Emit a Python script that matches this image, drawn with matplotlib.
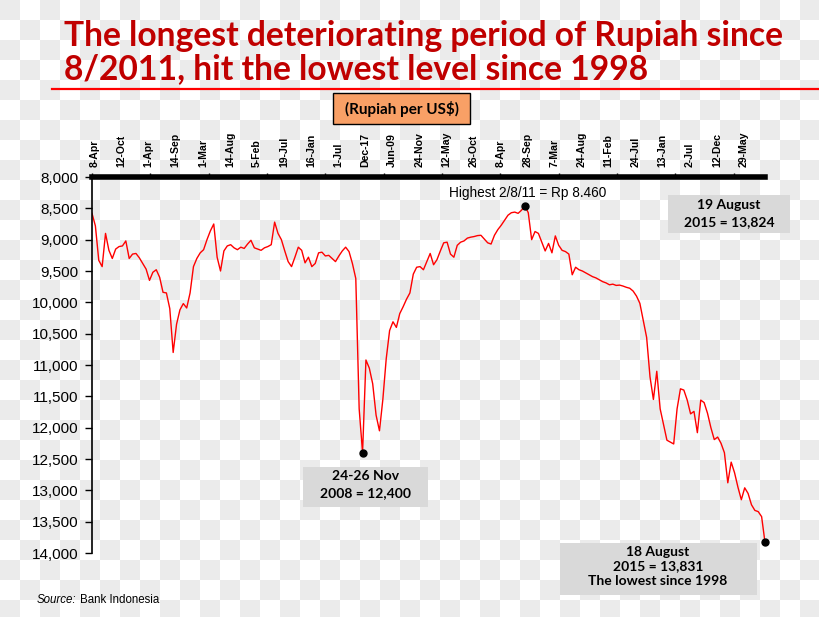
import numpy as np
import matplotlib
matplotlib.use('Agg')
import matplotlib.pyplot as plt
from matplotlib.patches import Rectangle
from matplotlib.lines import Line2D
from matplotlib.ticker import FuncFormatter

W, H = 820, 617

# Rupiah per US$, Apr 2004 - 18 Aug 2015 at evenly spaced points
rupiah = [
    8580, 8780, 9330, 9430, 8900, 9170, 9300, 9150, 9110, 9100,
    9020, 9300, 9230, 9220, 9290, 9380, 9470, 9650, 9520, 9480,
    9600, 9840, 9850, 10100, 10800, 10350, 10120, 10020, 10090, 9850,
    9430, 9300, 9210, 9160, 9000, 8860, 8750, 9280, 9500, 9180,
    9100, 9080, 9130, 9160, 9120, 9140, 9070, 9010, 9130, 9150,
    9170, 9130, 9110, 9080, 8720, 8900, 9000, 9180, 9350, 9430,
    9280, 9120, 9170, 9370, 9280, 9430, 9380, 9210, 9200, 9260,
    9250, 9300, 9350, 9260, 9180, 9120, 9190, 9380, 9620, 11700,
    12400, 10920, 11050, 11300, 11800, 12050, 11550, 10900, 10450, 10310,
    10400, 10180, 10070, 9950, 9850, 9550, 9440, 9430, 9480, 9350,
    9220, 9400, 9320, 9180, 9050, 9040, 9230, 9280, 9090, 9040,
    9020, 8975, 8960, 8950, 8935, 8930, 8990, 9050, 9070, 8930,
    8840, 8770, 8690, 8610, 8570, 8560, 8580, 8530, 8460, 8570,
    9000, 8870, 8900, 9040, 9180, 9060, 9210, 8940, 9090, 9170,
    9190, 9230, 9560, 9440, 9480, 9500, 9530, 9560, 9590, 9610,
    9640, 9670, 9690, 9720, 9710, 9730, 9725, 9740, 9760, 9775,
    9820, 9900, 10016, 10290, 10560, 11190, 11550, 11100, 11700, 11950,
    12200, 12230, 12260, 11700, 11380, 11400, 11560, 11780, 11740, 12080,
    11560, 11600, 11770, 12000, 12190, 12150, 12250, 12400, 12880, 12550,
    12720, 12950, 13150, 12960, 13050, 13230, 13320, 13340, 13420, 13831,
]

date_labels = ['8-Apr', '12-Oct', '1-Apr', '14-Sep', '1-Mar', '14-Aug', '5-Feb',
               '19-Jul', '16-Jan', '1-Jul', 'Dec-17', 'Jun-09', '24-Nov', '12-May',
               '26-Oct', '8-Apr', '28-Sep', '7-Mar', '24-Aug', '11-Feb', '24-Jul',
               '13-Jan', '2-Jul', '12-Dec', '29-May']
y_ticks = list(range(8000, 14001, 500))

title_lines = ['The longest deteriorating period of Rupiah since',
               '8/2011, hit the lowest level since 1998']
unit_label = '(Rupiah per US$)'
high_note = 'Highest 2/8/11 = Rp 8.460'
low2008_note = ['24-26 Nov', '2008 = 12,400']
aug19_note = ['19 August', '2015 = 13,824']
aug18_note = ['18 August', '2015 = 13,831', 'The lowest since 1998']

TITLE_RED = '#c00000'
BOX_GREY = '#d9d9d9'


def fx(x):
    return x / W


def fy(y):
    return 1 - y / H


def box(fig, x0, y0, x1, y1, fc, ec='none'):
    fig.add_artist(Rectangle((fx(x0), fy(y1)), fx(x1) - fx(x0), fy(y0) - fy(y1),
                             transform=fig.transFigure, fc=fc, ec=ec, lw=1, zorder=3))


def note(fig, cx, ys, lines, size=10):
    for y, s in zip(ys, lines):
        fig.text(fx(cx), fy(y), s, ha='center', va='center', fontsize=size,
                 fontweight='bold', family='Lato', zorder=4)


plt.rcParams['font.family'] = ['Liberation Sans', 'DejaVu Sans']

fig = plt.figure(figsize=(W / 100, H / 100), dpi=100)

# light checkerboard behind everything
yy, xx = np.mgrid[0:H, 0:W]
cells = (xx // 20 + yy // 20) % 2 == 0
bg = np.where(cells[..., None], 0.922, 1.0) * np.ones(3)
fig.figimage(bg, 0, 0, zorder=0)

# red gradient block and rule under the title
stops = np.array([[0.45, 0, 0], [0.85, 0, 0], [1, 0.05, 0.05], [0.95, 0, 0], [0.8, 0, 0]])
grad = np.array([np.interp(np.linspace(0, 1, 52), np.linspace(0, 1, len(stops)), stops[:, c])
                 for c in range(3)]).T[None, :, :]
bar_ax = fig.add_axes([0, fy(91), fx(52), fy(3) - fy(91)])
bar_ax.imshow(grad, aspect='auto')
bar_ax.axis('off')
fig.add_artist(Line2D([fx(52), 1], [fy(89), fy(89)], color='#ff0000', lw=1.6, zorder=3))

fig.text(fx(64), fy(46), title_lines[0], fontsize=24.2, fontweight='bold', family='Lato',
         color=TITLE_RED, va='baseline')
fig.text(fx(64), fy(79), title_lines[1], fontsize=24.2, fontweight='bold', family='Lato',
         color=TITLE_RED, va='baseline')

box(fig, 333, 93, 470, 124, '#f9a066', 'black')
fig.text(fx(402), fy(109), unit_label, ha='center', va='center', fontsize=11,
         fontweight='bold', family='Lato', zorder=4)

# main chart
ax = fig.add_axes([fx(92), fy(553), fx(765) - fx(92), fy(177) - fy(553)])
ax.set_zorder(2)
ax.patch.set_visible(False)

x = np.arange(len(rupiah))
ax.plot(x, rupiah, color='#ff0000', lw=1.0)
ax.set_xlim(0, len(rupiah) - 1)
ax.set_ylim(14000, 8000)

ax.xaxis.tick_top()
ax.set_xticks(np.arange(len(date_labels)) * 8 + 0.8)
ax.set_xticklabels(date_labels, rotation=90, fontsize=7.6, fontweight='bold')
ax.tick_params(axis='x', which='major', length=0, pad=7)
ax.set_xticks(np.arange(0, len(rupiah), 17.25), minor=True)
ax.tick_params(axis='x', which='minor', top=True, bottom=False, length=3, width=1,
               direction='out')

ax.set_yticks(y_ticks)
ax.yaxis.set_major_formatter(FuncFormatter(lambda v, p: '{:,}'.format(int(v))))
ax.tick_params(axis='y', length=5, width=1, pad=5, labelsize=11)

ax.spines['right'].set_visible(False)
ax.spines['bottom'].set_visible(False)
ax.spines['top'].set_linewidth(4)
ax.spines['left'].set_linewidth(1.2)

vals = np.array(rupiah)
i_high = int(np.argmin(vals))
i_low = int(np.argmax(vals[:150]))
i_last = len(vals) - 1
for i in (i_high, i_low, i_last):
    ax.plot(i, vals[i], 'o', color='black', ms=5, zorder=5, clip_on=False)

fig.text(fx(528), fy(193), high_note, ha='center', va='center', fontsize=9.8, zorder=4)

box(fig, 303, 467, 428, 507, BOX_GREY)
note(fig, 365.5, [476, 493], low2008_note)
box(fig, 668, 195, 790, 233, BOX_GREY)
note(fig, 729, [205, 222], aug19_note)
box(fig, 560, 543, 757, 595, BOX_GREY)
note(fig, 658, [552, 566, 581], aug18_note)

fig.text(fx(37), fy(600), 'Source:', fontsize=8.3, style='italic', va='center')
fig.text(fx(80), fy(600), 'Bank Indonesia', fontsize=8.3, va='center')

fig.savefig('out.png', dpi=100)
